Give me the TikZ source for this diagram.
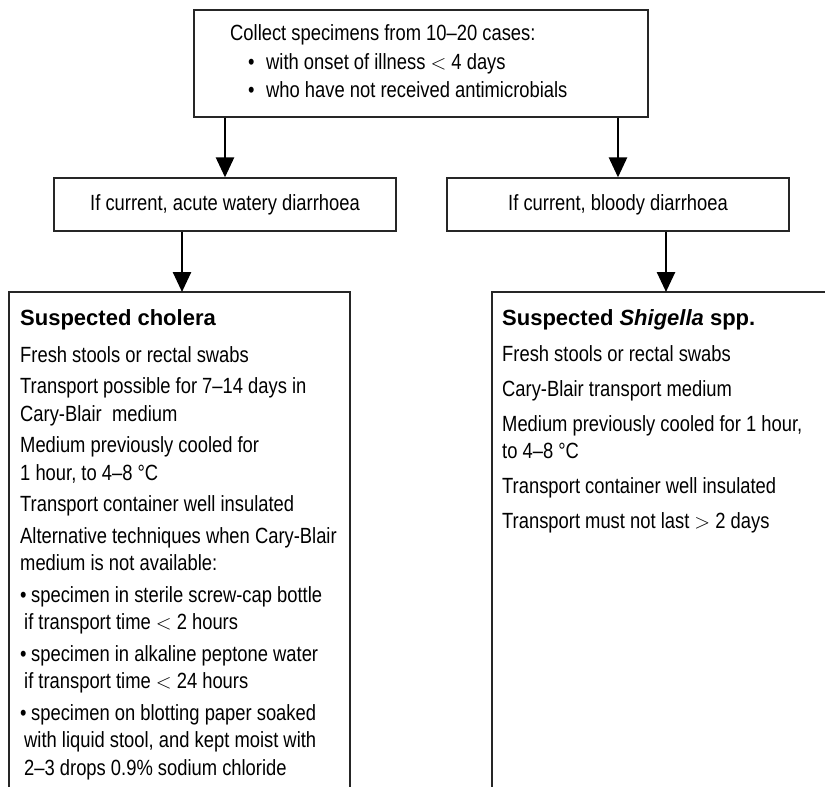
\documentclass[tikz,border=0pt]{standalone}
\usepackage{fontspec}
\setmainfont{Liberation Sans}[FakeStretch=0.835]
\newfontfamily\hdfont{Liberation Sans}
\usetikzlibrary{arrows.meta}
\begin{document}
\begin{tikzpicture}[x=1pt,y=-1pt,
  box/.style={draw=black!85, line width=1.3pt, inner sep=0pt},
  boxline/.style={draw=black!85, line width=1.3pt},
  tx/.style={anchor=base west, inner sep=0pt, font=\fontsize{22}{27.5}\selectfont},
  midtx/.style={font=\fontsize{22}{27.5}\selectfont},
  hd/.style={anchor=base west, inner sep=0pt, font=\hdfont\bfseries\fontsize{22}{27.5}\selectfont},
  arr/.style={line width=2.6pt, -{Triangle[length=20pt,width=18pt]}}]
\useasboundingbox (0,0) rectangle (825,787);

% top box
\node[box, minimum width=454pt, minimum height=107pt] (top) at (421,63.5) {};
\node[tx] (t1) at (230,40) {Collect specimens from 10--20 cases:};
\node[tx] (t2b) at (248,69) {•};
\node[tx] (t2) at (266,69) {with onset of illness $<$ 4 days};
\node[tx] (t3b) at (248,97) {•};
\node[tx] (t3) at (266,97) {who have not received antimicrobials};

% middle boxes
\node[box, midtx, minimum width=342pt, minimum height=53pt] (ml) at (225,204.5) {If current, acute watery diarrhoea};
\node[box, midtx, minimum width=342pt, minimum height=53pt] (mr) at (618,204.5) {If current, bloody diarrhoea};

\draw[arr] (top.south -| ml.north) -- (ml.north);
\draw[arr] (top.south -| mr.north) -- (mr.north);

% bottom boxes (open at the bottom / right)
\coordinate (lbtop) at (182,292);
\coordinate (rbtop) at (666,292);
\draw[boxline] (9,787) -- (9,292) -- (350,292) -- (350,787);
\draw[boxline] (492,787) -- (492,292) -- (826,292);

\draw[arr] (ml.south -| lbtop) -- (lbtop);
\draw[arr] (mr.south -| rbtop) -- (rbtop);

% left column text
\node[hd] (lh) at (20,325) {Suspected cholera};
\node[tx] (l1) at (20,362) {Fresh stools or rectal swabs};
\node[tx] (l2) at (20,393.5) {Transport possible for 7--14 days in};
\node[tx] (l3) at (20,421) {Cary-Blair\ \ medium};
\node[tx] (l4) at (20,452.5) {Medium previously cooled for};
\node[tx] (l5) at (20,480) {1 hour, to 4--8 °C};
\node[tx] (l6) at (20,511.5) {Transport container well insulated};
\node[tx] (l7) at (20,543) {Alternative techniques when Cary-Blair};
\node[tx] (l8) at (20,570.5) {medium is not available:};
\node[tx] (l9b) at (20,602) {•};
\node[tx] (l9) at (31,602) {specimen in sterile screw-cap bottle};
\node[tx] (l10) at (24,629.5) {if transport time $<$ 2 hours};
\node[tx] (l11b) at (20,661) {•};
\node[tx] (l11) at (31,661) {specimen in alkaline peptone water};
\node[tx] (l12) at (24,688.5) {if transport time $<$ 24 hours};
\node[tx] (l13b) at (20,720) {•};
\node[tx] (l13) at (31,720) {specimen on blotting paper soaked};
\node[tx] (l14) at (24,747.5) {with liquid stool, and kept moist with};
\node[tx] (l15) at (24,775) {2--3 drops 0.9\% sodium chloride};

% right column text
\node[hd] (rh) at (502,325) {Suspected \textit{Shigella} spp.};
\node[tx] (r1) at (502,361) {Fresh stools or rectal swabs};
\node[tx] (r2) at (502,396) {Cary-Blair transport medium};
\node[tx] (r3) at (502,431) {Medium previously cooled for 1 hour,};
\node[tx] (r4) at (502,458.5) {to 4--8 °C};
\node[tx] (r5) at (502,493.5) {Transport container well insulated};
\node[tx] (r6) at (502,528.5) {Transport must not last $>$ 2 days};
\end{tikzpicture}
\end{document}
